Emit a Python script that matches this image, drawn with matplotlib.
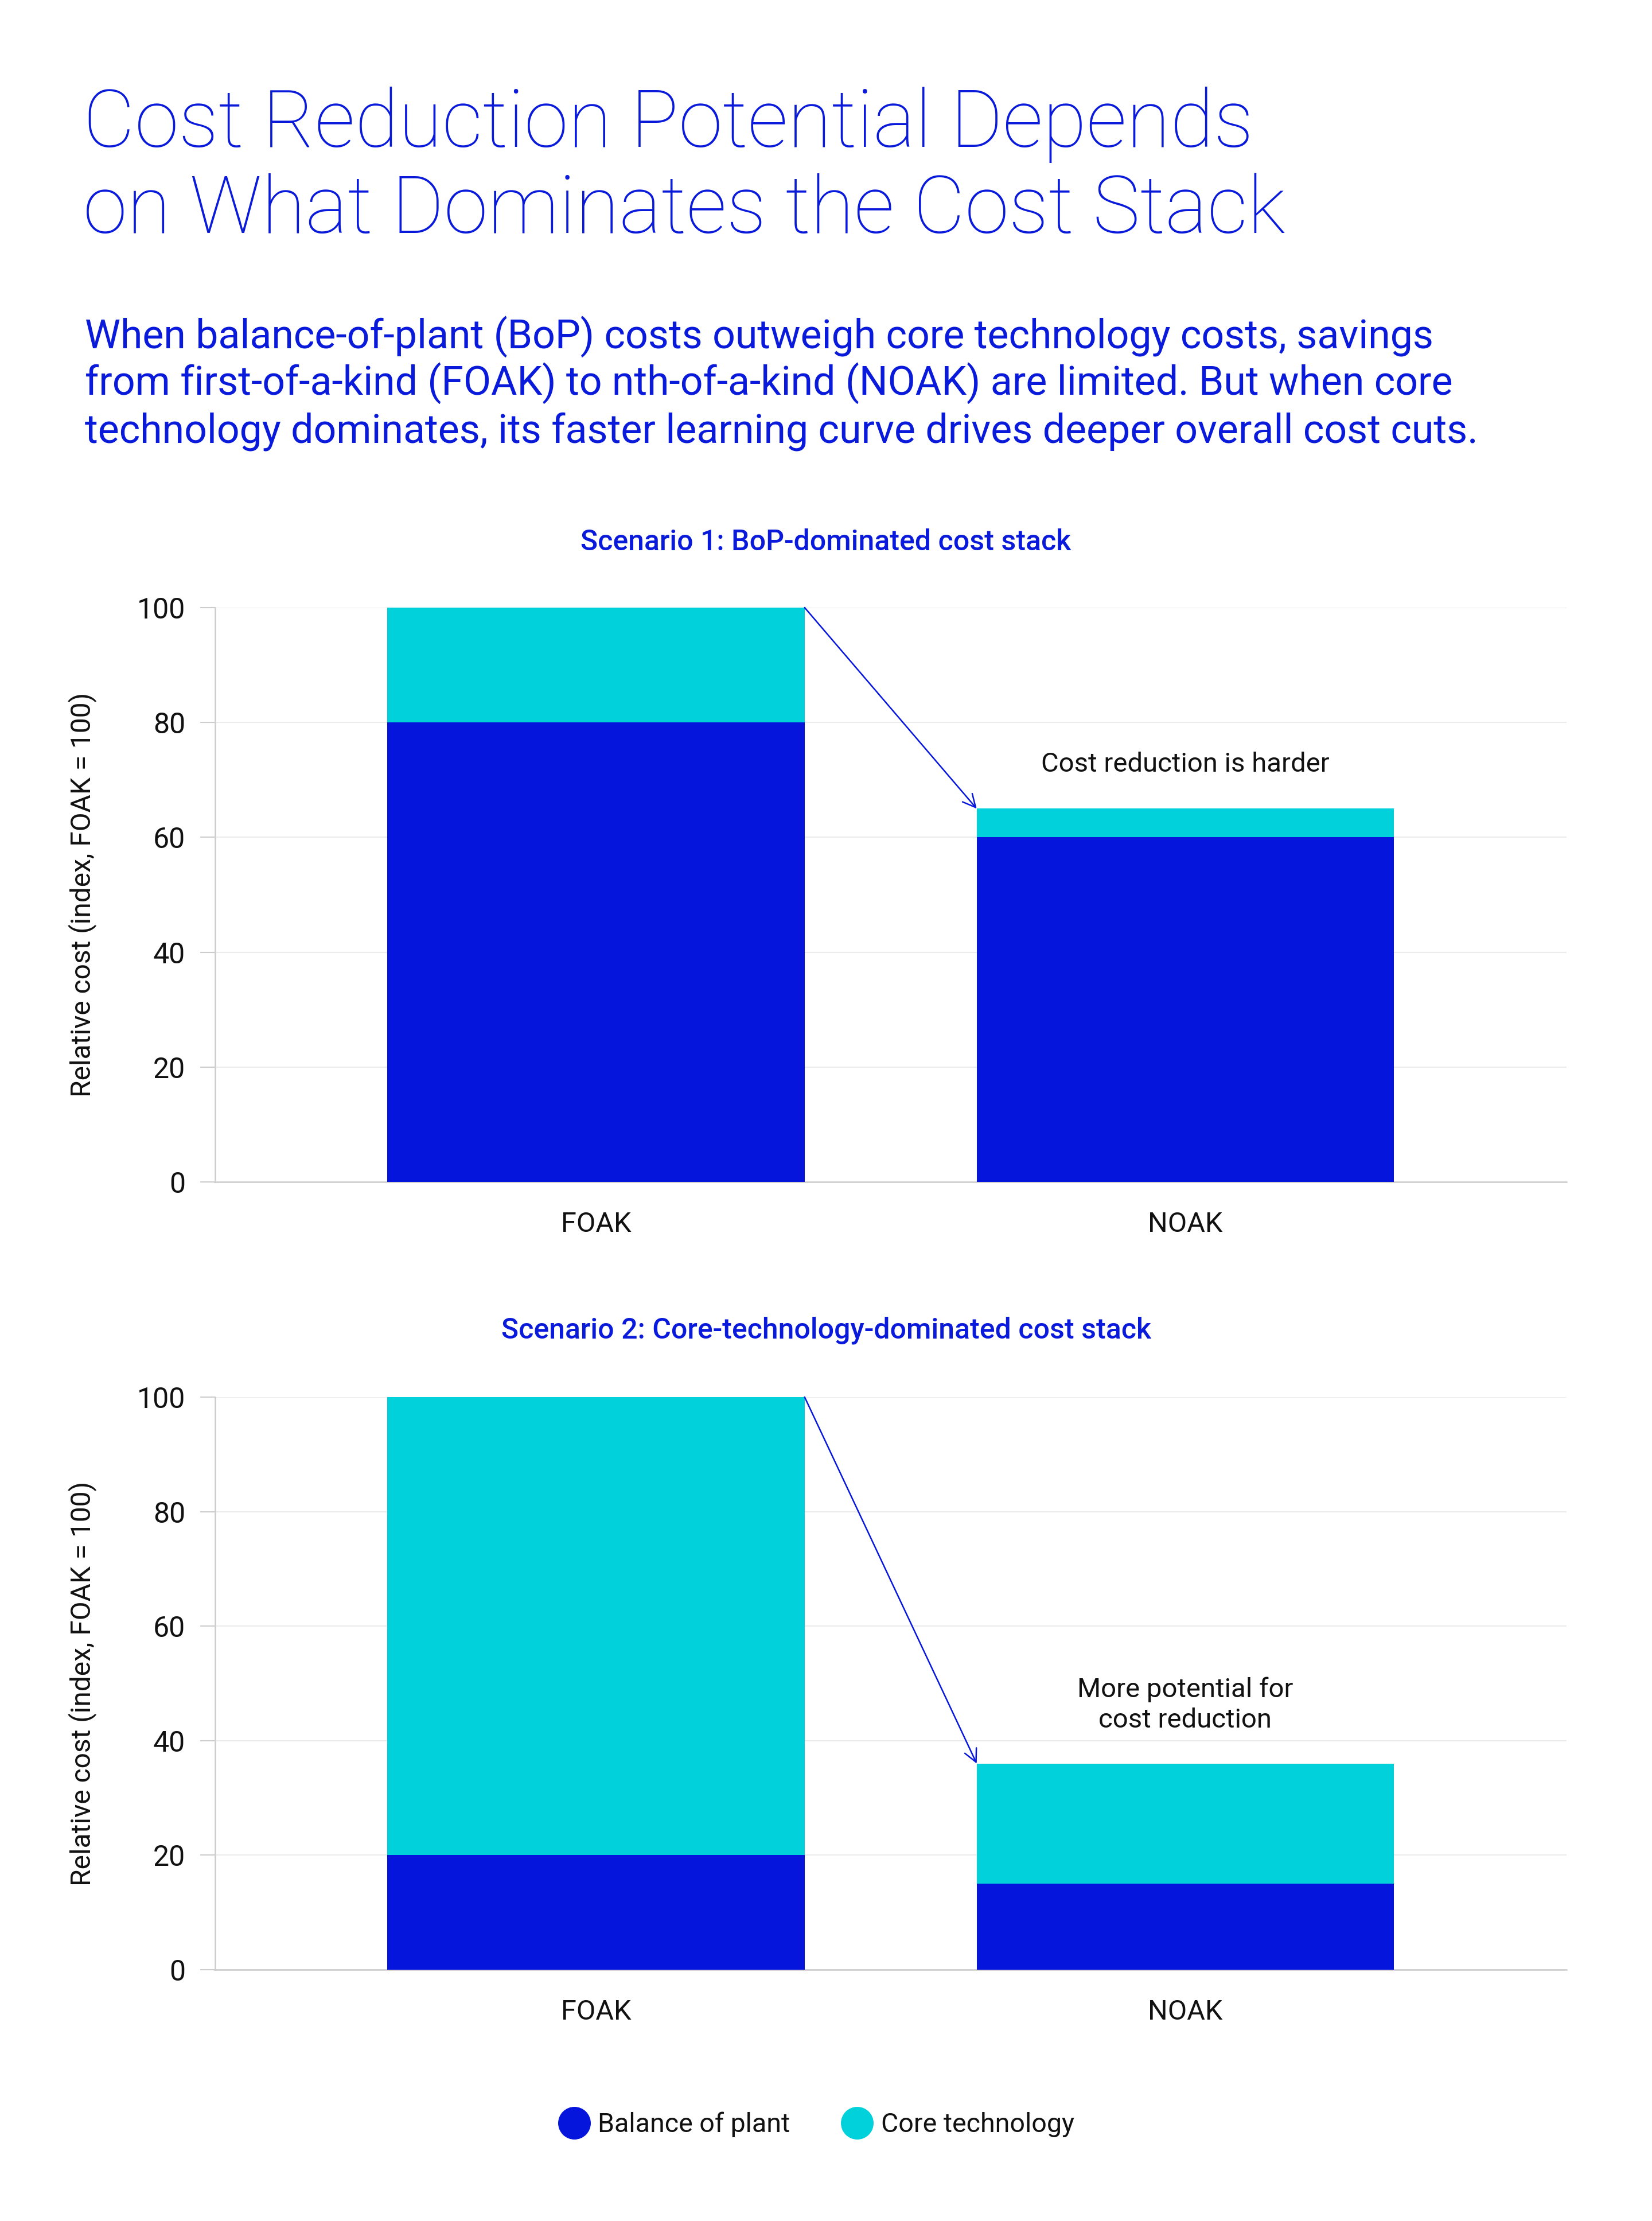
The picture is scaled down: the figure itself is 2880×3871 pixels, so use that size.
import matplotlib
matplotlib.use("Agg")
import matplotlib.pyplot as plt

plt.rcParams['font.family'] = ['Roboto', 'DejaVu Sans']

# data
categories = ['FOAK', 'NOAK']
s1_bop = [80, 60]
s1_core = [20, 5]
s2_bop = [20, 15]
s2_core = [80, 21]

series_names = ['Balance of plant', 'Core technology']
title_lines = ['Cost Reduction Potential Depends', 'on What Dominates the Cost Stack']
subtitle_lines = [
    'When balance-of-plant (BoP) costs outweigh core technology costs, savings',
    'from first-of-a-kind (FOAK) to nth-of-a-kind (NOAK) are limited. But when core',
    'technology dominates, its faster learning curve drives deeper overall cost cuts.',
]
panel_titles = ['Scenario 1: BoP-dominated cost stack',
                'Scenario 2: Core-technology-dominated cost stack']
notes = ['Cost reduction is harder', 'More potential for\ncost reduction']
y_label = 'Relative cost (index, FOAK = 100)'

BLUE = '#0515DC'
CYAN = '#00D1DB'
TEXT_BLUE = '#0A1ADB'
GRID = '#EBEBEB'
SPINE = '#CCCCCC'
BAR_W = 0.708

W, H = 2880, 3871
fig = plt.figure(figsize=(W / 100, H / 100), dpi=100)

# header
for txt, base in zip(title_lines, [256, 406]):
    fig.text(145 / W, 1 - base / H, txt, color=TEXT_BLUE, fontsize=100,
             fontweight='light', va='baseline', ha='left')
for txt, base in zip(subtitle_lines, [607, 688, 771]):
    fig.text(148 / W, 1 - base / H, txt, color=TEXT_BLUE, fontsize=50.3,
             va='baseline', ha='left')


def draw_panel(rect, bop, core, title_y, title, note, note_y):
    ax = fig.add_axes(rect)
    x = range(len(categories))
    ax.bar(x, bop, width=BAR_W, color=BLUE, zorder=3)
    ax.bar(x, core, width=BAR_W, bottom=bop, color=CYAN, zorder=3)

    totals = [b + c for b, c in zip(bop, core)]
    ax.annotate('', xy=(1 - BAR_W / 2, totals[1]), xytext=(BAR_W / 2, totals[0]),
                arrowprops=dict(arrowstyle='->', color=BLUE, lw=1.8,
                                shrinkA=0, shrinkB=0, mutation_scale=40),
                zorder=4)
    ax.text(1, note_y, note, ha='center', va='center', fontsize=34,
            color='#111111', linespacing=1.25)

    ax.set_xlim(-0.647, 1.647)
    ax.set_ylim(0, 100)
    ax.set_yticks([0, 20, 40, 60, 80, 100])
    ax.set_xticks(list(x))
    ax.set_xticklabels(categories)
    ax.grid(axis='y', color=GRID, lw=1.5, zorder=0)
    for s in ['top', 'right']:
        ax.spines[s].set_visible(False)
    for s in ['left', 'bottom']:
        ax.spines[s].set_color(SPINE)
        ax.spines[s].set_linewidth(1.8)
    ax.tick_params(axis='y', length=19, width=1.5, color=SPINE, pad=18,
                   labelsize=36, labelcolor='#111111')
    ax.tick_params(axis='x', length=0, pad=37, labelsize=35, labelcolor='#111111')
    ax.set_ylabel(y_label, fontsize=34.5, color='#111111')
    ax.yaxis.set_label_coords(-0.0872, 0.5)

    fig.text(0.5, title_y, title, ha='center', va='center', fontsize=36,
             fontweight='medium', color=TEXT_BLUE)
    return ax


draw_panel([374.5 / W, 1 - 2060 / H, 2356.5 / W, 1001 / H], s1_bop, s1_core,
           1 - 945 / H, panel_titles[0], notes[0], 72.7)
draw_panel([374.5 / W, 1 - 3433 / H, 2356.5 / W, 998 / H], s2_bop, s2_core,
           1 - 2319 / H, panel_titles[1], notes[1], 46.3)

# legend
handles = [plt.Line2D([], [], ls='', marker='o', markersize=40, color=c)
           for c in [BLUE, CYAN]]
fig.legend(handles, series_names, loc='center', bbox_to_anchor=(0.494, 1 - 3703 / H),
           ncol=2, frameon=False, fontsize=33.5, handlelength=1.2,
           handletextpad=0.3, columnspacing=1.9, labelcolor='#111111')

fig.savefig('out.png', dpi=100, facecolor='white')
